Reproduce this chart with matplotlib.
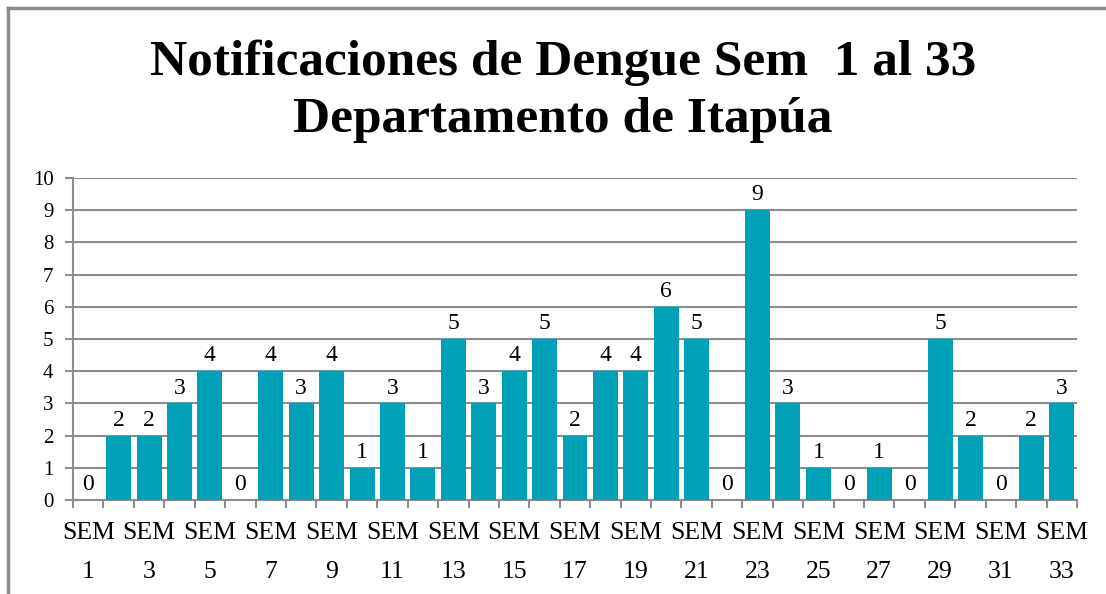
import matplotlib
matplotlib.use("Agg")
import matplotlib.pyplot as plt
from matplotlib.lines import Line2D

weeks = list(range(1, 34))
values = [0, 2, 2, 3, 4, 0, 4, 3, 4, 1, 3, 1, 5, 3, 4, 5, 2, 4, 4, 6, 5, 0, 9, 3, 1, 0, 1, 0, 5, 2, 0, 2, 3]
tick_labels = [f"SEM\n{w}" if w % 2 == 1 else "" for w in weeks]
title = "Notificaciones de Dengue Sem  1 al 33\nDepartamento de Itapúa"

serif = ["Liberation Serif", "DejaVu Serif"]
bar_color = "#00A0B9"
grid_color = "#8C8C8C"

fig = plt.figure(figsize=(11.06, 5.94), dpi=100)
ax = fig.add_axes([73 / 1106, 94 / 594, (1077 - 73) / 1106, (500 - 178) / 594])

x = list(range(len(weeks)))
bars = ax.bar(x, values, width=0.82, color=bar_color, zorder=3)

ax.set_xlim(-0.5, len(weeks) - 0.5)
ax.set_ylim(0, 10)
ax.set_yticks(range(0, 11))
ax.set_yticklabels([str(v) for v in range(0, 11)], fontfamily=serif, fontsize=15)

ax.set_xticks(x)
ax.set_xticklabels(tick_labels, fontfamily=serif, fontsize=18.5, linespacing=2.0)
ax.tick_params(axis="x", length=0, pad=16)
# boundary tick marks
ax.set_xticks([i - 0.5 for i in range(len(weeks) + 1)], minor=True)
ax.tick_params(axis="x", which="minor", length=6, color=grid_color, width=1.5)
ax.tick_params(axis="y", length=6, color=grid_color, width=1.5, pad=8)

ax.yaxis.grid(True, color=grid_color, linewidth=1.5, zorder=0)
for s in ["top", "right"]:
    ax.spines[s].set_visible(False)
for s in ["left", "bottom"]:
    ax.spines[s].set_color(grid_color)
    ax.spines[s].set_linewidth(1.5)

for xi, v in zip(x, values):
    ax.text(xi, v + 0.15, str(v), ha="center", va="bottom",
            fontfamily=serif, fontsize=17, zorder=4)

fig.text(563 / 1106, 1 - 91 / 594, title, ha="center", va="center",
         fontfamily=serif, fontsize=37, fontweight="bold", linespacing=1.32)

# chart frame (top and left)
fig.add_artist(Line2D([8 / 1106, 1.0], [1 - 8 / 594, 1 - 8 / 594],
                      transform=fig.transFigure, color="#8C8C8C", linewidth=2.5))
fig.add_artist(Line2D([8 / 1106, 8 / 1106], [1 - 8 / 594, 0],
                      transform=fig.transFigure, color="#8C8C8C", linewidth=2.5))

fig.savefig("out.png", dpi=100)
